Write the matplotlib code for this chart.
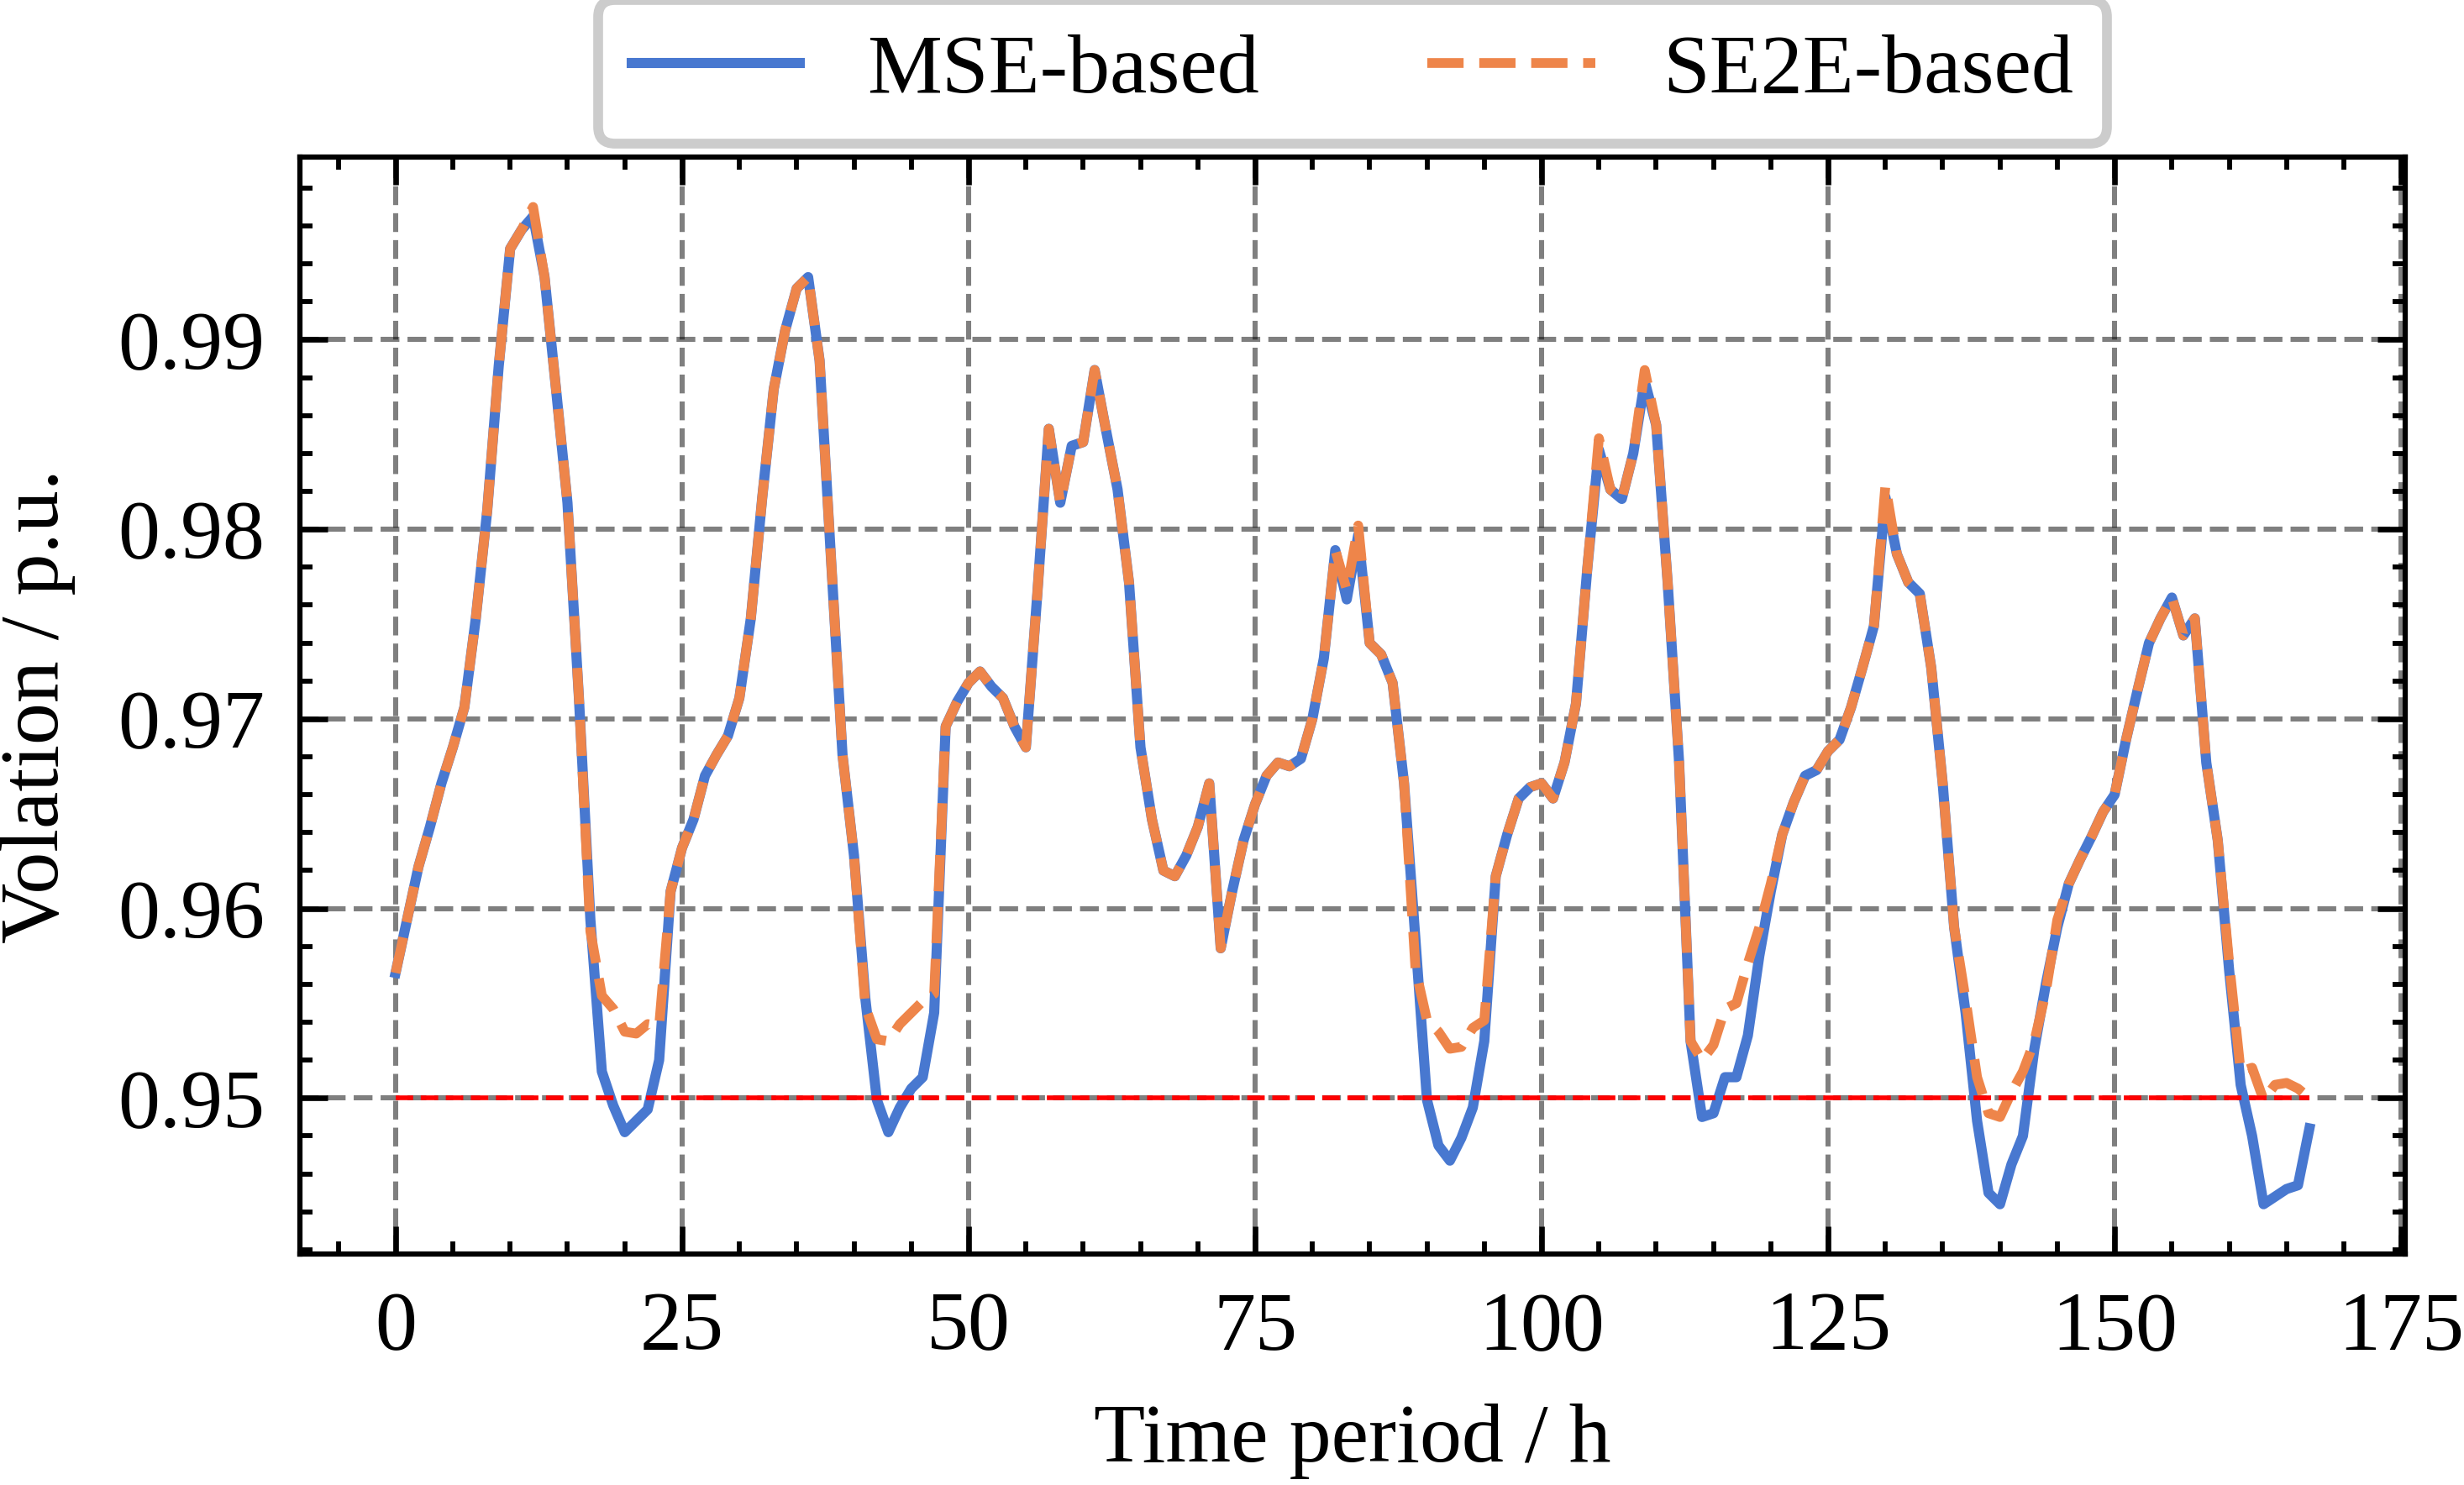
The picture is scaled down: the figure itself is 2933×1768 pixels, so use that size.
import numpy as np
import matplotlib
matplotlib.use("Agg")
from matplotlib import pyplot as plt
from matplotlib.ticker import MultipleLocator, FormatStrFormatter

# hourly voltage of the weakest bus over one week
hours = np.arange(168)

mse_based = [
    0.9566, 0.9594, 0.9622, 0.9643, 0.9666, 0.9685, 0.9706, 0.9753, 0.9810, 0.9886,
    0.9948, 0.9958, 0.9965, 0.9933, 0.9874, 0.9814, 0.9711, 0.9594, 0.9514, 0.9496,
    0.9482, 0.9488, 0.9494, 0.9520, 0.9609, 0.9632, 0.9647, 0.9670, 0.9681, 0.9691,
    0.9711, 0.9753, 0.9817, 0.9874, 0.9905, 0.9927, 0.9933, 0.9889, 0.9784, 0.9681,
    0.9628, 0.9552, 0.9499, 0.9482, 0.9495, 0.9505, 0.9511, 0.9545, 0.9696, 0.9709,
    0.9719, 0.9725, 0.9717, 0.9711, 0.9696, 0.9685, 0.9766, 0.9853, 0.9814, 0.9844,
    0.9846, 0.9884, 0.9852, 0.9821, 0.9772, 0.9685, 0.9647, 0.9620, 0.9617, 0.9628,
    0.9643, 0.9666, 0.9579, 0.9609, 0.9636, 0.9655, 0.9670, 0.9677, 0.9675, 0.9679,
    0.9700, 0.9732, 0.9789, 0.9763, 0.9797, 0.9740, 0.9734, 0.9719, 0.9666, 0.9583,
    0.9499, 0.9475, 0.9467, 0.9479, 0.9495, 0.9530, 0.9617, 0.9639, 0.9658, 0.9664,
    0.9666, 0.9658, 0.9677, 0.9708, 0.9780, 0.9842, 0.9821, 0.9816, 0.9840, 0.9878,
    0.9855, 0.9772, 0.9677, 0.9530, 0.9490, 0.9492, 0.9511, 0.9511, 0.9533, 0.9575,
    0.9609, 0.9639, 0.9656, 0.9670, 0.9673, 0.9683, 0.9689, 0.9706, 0.9727, 0.9749,
    0.9817, 0.9787, 0.9772, 0.9766, 0.9727, 0.9666, 0.9590, 0.9545, 0.9488, 0.9450,
    0.9444, 0.9465, 0.9480, 0.9526, 0.9560, 0.9590, 0.9613, 0.9626, 0.9638, 0.9651,
    0.9660, 0.9689, 0.9715, 0.9740, 0.9753, 0.9764, 0.9744, 0.9753, 0.9677, 0.9636,
    0.9567, 0.9507, 0.9480, 0.9444, 0.9448, 0.9452, 0.9454, 0.9484,
]

se2e_based = [
    0.9566, 0.9594, 0.9622, 0.9643, 0.9666, 0.9685, 0.9706, 0.9753, 0.9810, 0.9886,
    0.9948, 0.9958, 0.9970, 0.9933, 0.9874, 0.9814, 0.9711, 0.9588, 0.9554, 0.9547,
    0.9535, 0.9534, 0.9539, 0.9538, 0.9609, 0.9632, 0.9647, 0.9670, 0.9681, 0.9691,
    0.9711, 0.9753, 0.9817, 0.9874, 0.9905, 0.9927, 0.9933, 0.9889, 0.9784, 0.9681,
    0.9628, 0.9548, 0.9531, 0.9530, 0.9539, 0.9545, 0.9551, 0.9555, 0.9696, 0.9709,
    0.9719, 0.9725, 0.9717, 0.9711, 0.9696, 0.9685, 0.9766, 0.9853, 0.9814, 0.9844,
    0.9846, 0.9884, 0.9852, 0.9821, 0.9772, 0.9685, 0.9647, 0.9620, 0.9617, 0.9628,
    0.9643, 0.9666, 0.9579, 0.9609, 0.9636, 0.9655, 0.9670, 0.9677, 0.9675, 0.9679,
    0.9700, 0.9732, 0.9789, 0.9768, 0.9802, 0.9740, 0.9734, 0.9719, 0.9666, 0.9568,
    0.9541, 0.9535, 0.9526, 0.9527, 0.9537, 0.9541, 0.9617, 0.9639, 0.9658, 0.9664,
    0.9666, 0.9658, 0.9677, 0.9708, 0.9780, 0.9848, 0.9821, 0.9816, 0.9840, 0.9884,
    0.9855, 0.9772, 0.9677, 0.9530, 0.9520, 0.9528, 0.9547, 0.9550, 0.9571, 0.9590,
    0.9613, 0.9639, 0.9656, 0.9670, 0.9673, 0.9683, 0.9689, 0.9706, 0.9727, 0.9749,
    0.9823, 0.9787, 0.9772, 0.9766, 0.9727, 0.9666, 0.9590, 0.9552, 0.9511, 0.9492,
    0.9490, 0.9503, 0.9514, 0.9530, 0.9556, 0.9594, 0.9613, 0.9626, 0.9638, 0.9651,
    0.9660, 0.9689, 0.9715, 0.9740, 0.9753, 0.9764, 0.9744, 0.9753, 0.9677, 0.9636,
    0.9571, 0.9514, 0.9516, 0.9499, 0.9507, 0.9508, 0.9505, 0.9500,
]

voltage_limit = 0.95

plt.rcParams["font.family"] = "serif"
plt.rcParams["font.serif"] = ["Liberation Serif", "DejaVu Serif"]
plt.rcParams["font.size"] = 24

fig = plt.figure(figsize=(2933 / 300, 1768 / 300), dpi=300)
ax = fig.add_axes([0.1217, 0.1555, 0.8544, 0.7387])

ax.plot(hours, mse_based, color="#4878d0", lw=2.9, label="MSE-based")
ax.plot(hours, se2e_based, color="#ee854a", lw=2.8, ls="--", label="SE2E-based")
# lower voltage limit
ax.plot(hours, [voltage_limit] * len(hours), color="red", lw=1.35, ls="--")

ax.grid(True, color="k", alpha=0.5, lw=1.45, linestyle="--")

ax.xaxis.set_major_locator(MultipleLocator(25))
ax.xaxis.set_minor_locator(MultipleLocator(5))
ax.yaxis.set_major_locator(MultipleLocator(0.01))
ax.yaxis.set_minor_locator(MultipleLocator(0.002))
ax.yaxis.set_major_formatter(FormatStrFormatter("%.2f"))

ax.tick_params(which="both", direction="in", top=True, right=True)
ax.tick_params(which="major", length=8, width=1.6)
ax.tick_params(which="minor", length=3.7, width=1.4)
ax.tick_params(axis="x", which="major", pad=10.5)
ax.tick_params(axis="y", which="major", pad=10)
for spine in ax.spines.values():
    spine.set_linewidth(1.5)

ax.set_xlabel("Time period / h")
ax.set_ylabel("Volation / p.u.")
ax.xaxis.set_label_coords(0.5, -0.136)
ax.yaxis.set_label_coords(-0.1065, 0.5)

leg = ax.legend(
    loc="lower center",
    bbox_to_anchor=(0.5, 1.012),
    ncol=2,
    borderaxespad=0,
    borderpad=0.4,
    frameon=True,
    fancybox=True,
    framealpha=1,
    edgecolor="#cccccc",
)
leg.get_frame().set_linewidth(2.8)

fig.savefig("out.png", dpi=300)
